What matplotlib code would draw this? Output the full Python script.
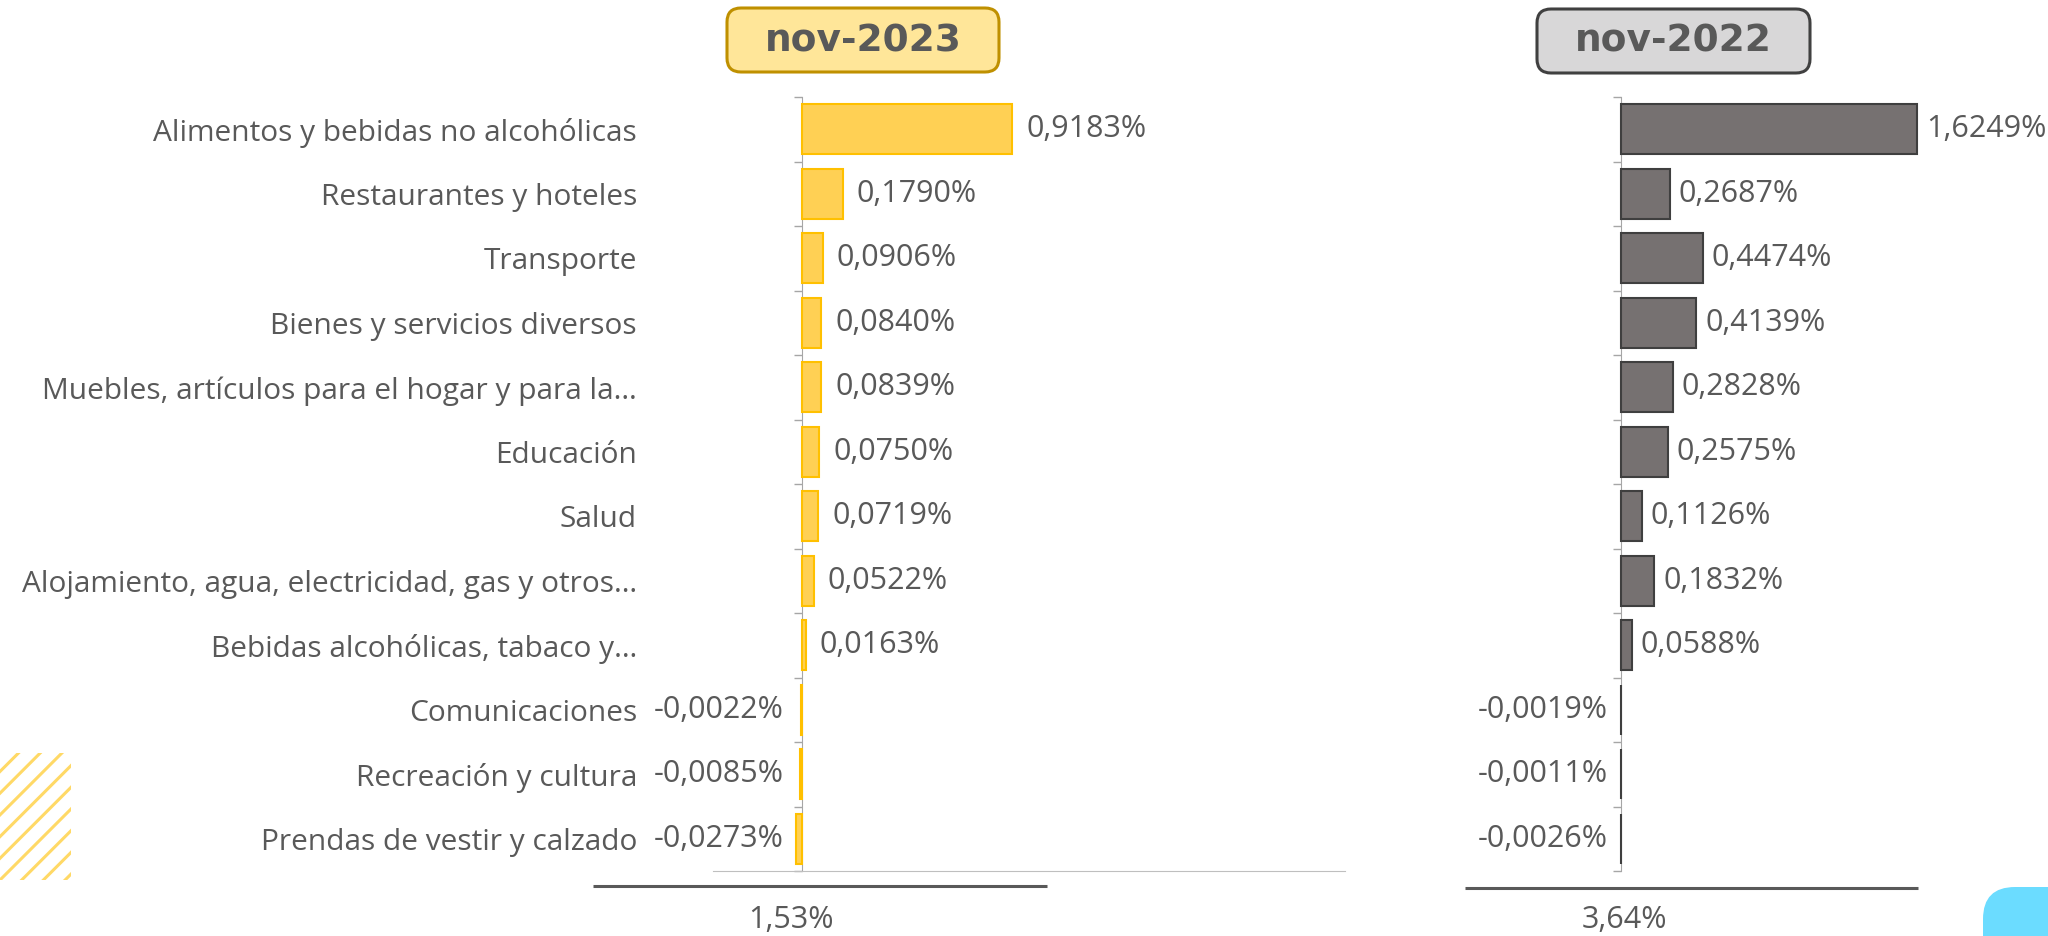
import numpy as np
import matplotlib
matplotlib.use('Agg')
import matplotlib.pyplot as plt
from matplotlib.patches import FancyBboxPatch, Rectangle

plt.rcParams['font.family'] = ['Open Sans', 'DejaVu Sans']

# data
categories = [
    'Alimentos y bebidas no alcohólicas',
    'Restaurantes y hoteles',
    'Transporte',
    'Bienes y servicios diversos',
    'Muebles, artículos para el hogar y para la…',
    'Educación',
    'Salud',
    'Alojamiento, agua, electricidad, gas y otros…',
    'Bebidas alcohólicas, tabaco y…',
    'Comunicaciones',
    'Recreación y cultura',
    'Prendas de vestir y calzado',
]
values_2023 = [0.9183, 0.1790, 0.0906, 0.0840, 0.0839, 0.0750, 0.0719, 0.0522, 0.0163, -0.0022, -0.0085, -0.0273]
values_2022 = [1.6249, 0.2687, 0.4474, 0.4139, 0.2828, 0.2575, 0.1126, 0.1832, 0.0588, -0.0019, -0.0011, -0.0026]
titles = ['nov-2023', 'nov-2022']
totals = [1.53, 3.64]

W, H = 2048, 936
TXT = '#595959'
FS = 22

def pct(v, nd=4):
    return f'{v:.{nd}f}'.replace('.', ',') + '%'

fig = plt.figure(figsize=(W / 100, H / 100), dpi=100)

# overlay in pixel coordinates for decorations
ov = fig.add_axes([0, 0, 1, 1], zorder=-1)
ov.set_xlim(0, W)
ov.set_ylim(H, 0)
ov.axis('off')

top_px, bot_px = 97, 871

def make_axes(left_px, right_px, zero_px, scale):
    ax = fig.add_axes([left_px / W, 1 - bot_px / H, (right_px - left_px) / W, (bot_px - top_px) / H])
    ax.set_xlim(-(zero_px - left_px) / scale, (right_px - zero_px) / scale)
    ax.set_ylim(len(categories) - 0.5, -0.5)
    ax.patch.set_alpha(0)
    return ax

ax1 = make_axes(713, 1345, 802, 228.7)
ax2 = make_axes(1480, 1960, 1621, 182.3)

y = np.arange(len(categories))

ax1.barh(y, values_2023, height=0.78, color='#FFD054', edgecolor='#FFC000', linewidth=1.5, zorder=3)
ax2.barh(y, values_2022, height=0.78, color='#767171', edgecolor='#3F3F3F', linewidth=1.5, zorder=3)

for ax, vals, off, noff in [(ax1, values_2023, 14, 18), (ax2, values_2022, 9, 13)]:
    for i, v in enumerate(vals):
        if v >= 0:
            ax.annotate(pct(v), (v, i), xytext=(off * 0.72, 0), textcoords='offset points',
                        ha='left', va='center', fontsize=FS, color=TXT)
        else:
            ax.annotate(pct(v), (0, i), xytext=(-noff * 0.72, 0), textcoords='offset points',
                        ha='right', va='center', fontsize=FS, color=TXT)
    ax.set_xticks([])
    ax.spines['left'].set_position(('data', 0))
    ax.set_yticks(np.arange(-0.5, len(categories)), minor=True)
    ax.tick_params(axis='y', which='minor', length=6, width=1, color='#A6A6A6', direction='out')
    for s in ['top', 'right']:
        ax.spines[s].set_visible(False)
    ax.spines['left'].set_color('#A6A6A6')
    ax.spines['bottom'].set_color('#BFBFBF')

ax2.spines['bottom'].set_visible(False)
ax2.set_yticks([])
ax2.set_yticks(np.arange(-0.5, len(categories)), minor=True)

ax1.set_yticks(y)
ax1.set_yticklabels(categories, fontsize=21.5, color=TXT)
ax1.tick_params(axis='y', which='major', length=0, pad=(802 - 637) * 0.72)

# title boxes
boxes = [((727, 8, 272, 64), '#FFE699', '#BF9000'), ((1537, 9, 273, 64), '#D8D7D8', '#404040')]
for (bx, by, bw, bh), fc, ec in boxes:
    ov.add_patch(FancyBboxPatch((bx, by), bw, bh, boxstyle='round,pad=0,rounding_size=14',
                                facecolor=fc, edgecolor=ec, linewidth=2.2))
for ((bx, by, bw, bh), _, _), t in zip(boxes, titles):
    ov.text(bx + bw / 2, by + bh / 2 + 1, t, ha='center', va='center', fontsize=27,
            fontweight='bold', family='DejaVu Sans', color=TXT)

# total lines and values
for (x0, x1, ly), tx, tot in [((593, 1047, 886), 791, totals[0]), ((1465, 1918, 888), 1624, totals[1])]:
    ov.plot([x0, x1], [ly, ly], color=TXT, lw=2.2, solid_capstyle='butt')
    ov.text(tx, 920, pct(tot, 2), ha='center', va='center', fontsize=FS, color=TXT)

# hatch decoration bottom-left
clip = Rectangle((0, 753), 71, 127, transform=ov.transData)
for k in range(-6, 12):
    x0 = k * 21.7
    ln, = ov.plot([x0, x0 + 140], [880, 740], color='#FFD966', lw=2.2)
    ln.set_clip_path(clip)

# cyan shape bottom-right
ov.add_patch(FancyBboxPatch((1983, 887), 200, 200, boxstyle='round,pad=0,rounding_size=32',
                            facecolor='#6BDCFF', edgecolor='none'))

fig.savefig('out.png', dpi=100)
